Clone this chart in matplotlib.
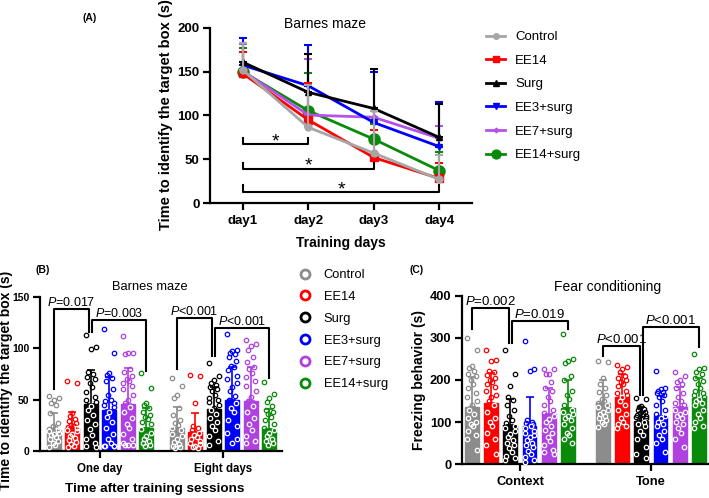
import matplotlib
matplotlib.use('Agg')
import matplotlib.pyplot as plt
from matplotlib.lines import Line2D

plt.rcParams['font.family'] = ['Liberation Sans', 'DejaVu Sans']
plt.rcParams['mathtext.fontset'] = 'custom'
plt.rcParams['mathtext.it'] = 'Liberation Sans:italic'
plt.rcParams['mathtext.rm'] = 'Liberation Sans'

W, H = 709, 498

groups = ['Control', 'EE14', 'Surg', 'EE3+surg', 'EE7+surg', 'EE14+surg']
line_colors = ['#a6a6a6', '#ff0000', '#000000', '#0000ff', '#b552e8', '#0a8a0a']
bar_colors = ['#8c8c8c', '#ff0000', '#000000', '#0000ff', '#b040e0', '#0a8a0a']
markers = ['o', 's', '^', 'v', 'D', 'o']
msizes = [5, 5.5, 5, 5, 3, 8]

# ---------------- Panel A data ----------------
days = ['day1', 'day2', 'day3', 'day4']
a_control = [152, 86.5, 57, 27]
a_ee14 = [148, 95, 52, 28]
a_surg = [161, 126.5, 108, 75]
a_ee3 = [157.5, 134, 92, 64.5]
a_ee7 = [151, 100.5, 98, 74]
a_ee14s = [150, 105.5, 73, 37]
a_means = [a_control, a_ee14, a_surg, a_ee3, a_ee7, a_ee14s]

a_top_control = [183, 135, 105, 55]
a_top_ee14 = [173, 137, 83, 46]
a_top_surg = [183, 170, 153, 113]
a_top_ee3 = [189, 180, 150, 115]
a_top_ee7 = [182, 165, 108, 88]
a_top_ee14s = [177, 149, 90, 58]
a_tops = [a_top_control, a_top_ee14, a_top_surg, a_top_ee3, a_top_ee7, a_top_ee14s]

# significance brackets (day from, day to, bracket y, leg top y)
a_brackets = [(1, 2, 67, 74), (1, 3, 39, 46), (1, 4, 12, 20)]

# ---------------- Panel B data ----------------
b_conditions = ['One day', 'Eight days']
b_means_one = [20.5, 22.7, 45.8, 40, 45.5, 22.7]
b_means_eight = [22.7, 18.2, 40.9, 49.7, 48.7, 21.4]
b_tops_one = [37, 38.3, 79, 71.8, 80.5, 42.2]
b_tops_eight = [42.5, 36.7, 62.7, 81.5, 81.5, 40.9]

b_dots_one = [
    [54, 52, 50, 47, 45, 37, 27, 24, 22, 21, 20, 19, 18, 17, 16, 14, 12, 10, 8, 6, 4],
    [68, 66, 37, 34, 31, 29, 27, 25, 24, 23, 22, 20, 19, 17, 15, 13, 11, 9, 7, 5, 4],
    [113, 101, 99, 77, 75, 72, 70, 66, 62, 57, 53, 50, 48, 44, 40, 35, 30, 26, 21, 16, 12, 8, 5, 4],
    [119, 95, 76, 74, 71, 68, 60, 55, 50, 49, 47, 45, 43, 38, 33, 28, 22, 17, 12, 8, 5, 5, 5, 5],
    [112, 95, 95, 94, 80, 77, 73, 70, 68, 66, 63, 60, 55, 50, 47, 43, 38, 32, 26, 22, 17, 12, 8, 6, 6, 6],
    [76, 61, 47, 45, 42, 38, 35, 33, 31, 28, 26, 21, 18, 15, 12, 10, 8, 6, 5],
]
b_dots_eight = [
    [71, 63, 55, 52, 42, 35, 30, 27, 25, 22, 20, 17, 15, 12, 9, 7, 5, 4, 3],
    [74, 73, 47, 24, 22, 20, 18, 16, 14, 12, 10, 8, 7, 5, 4, 3],
    [86, 73, 69, 66, 64, 62, 60, 58, 55, 52, 50, 48, 45, 42, 40, 36, 32, 28, 24, 20, 15, 10, 6],
    [114, 98, 97, 95, 94, 92, 88, 83, 82, 79, 73, 70, 66, 62, 58, 54, 50, 47, 42, 38, 30, 24, 18, 12, 8],
    [108, 104, 102, 98, 92, 87, 82, 80, 76, 72, 68, 63, 58, 53, 49, 44, 38, 32, 26, 20, 15, 10, 8],
    [67, 56, 52, 48, 44, 40, 38, 36, 33, 30, 26, 22, 20, 18, 15, 12, 10, 8, 6],
]
# (cond index, group from, group to, top y, left leg bottom, right leg bottom, label)
b_brackets = [
    (0, 0, 2, 138, 60, 116, 'P=0.017'),
    (0, 2, 5, 128, 116, 78, 'P=0.003'),
    (1, 0, 2, 130, 79.5, 93, 'P<0.001'),
    (1, 2, 5, 119.5, 93, 71, 'P<0.001'),
]

# ---------------- Panel C data ----------------
c_conditions = ['Context', 'Tone']
c_means_context = [136.8, 146, 92.5, 91.7, 119.4, 133.6]
c_means_tone = [144.7, 160.5, 102.8, 115.4, 136.8, 156.5]
c_tops_context = [207, 216, 155.7, 160.5, 180, 200]
c_tops_tone = [200, 215, 135, 163, 184, 204]

c_dots_context = [
    [300, 271, 233, 228, 222, 215, 210, 200, 190, 180, 170, 160, 150, 140, 130, 120, 110, 100, 95, 90, 80, 70, 60, 35],
    [270, 248, 245, 222, 218, 212, 205, 200, 195, 190, 183, 175, 165, 160, 150, 140, 125, 110, 100, 90, 75, 60, 45, 25],
    [270, 215, 185, 160, 152, 140, 130, 115, 105, 98, 92, 85, 80, 72, 65, 58, 50, 45, 38, 30, 20, 15, 10],
    [293, 227, 222, 105, 100, 97, 95, 92, 90, 85, 80, 75, 70, 65, 58, 50, 45, 40, 32, 25, 18, 10, 5],
    [225, 225, 215, 215, 195, 180, 175, 160, 150, 140, 130, 122, 115, 108, 100, 90, 82, 75, 65, 55, 45, 35, 30, 25],
    [310, 250, 245, 240, 210, 200, 175, 165, 155, 140, 130, 125, 120, 115, 110, 105, 95, 85, 75, 70, 60, 50],
]
c_dots_tone = [
    [245, 242, 205, 190, 180, 172, 165, 155, 150, 145, 140, 135, 130, 125, 120, 115, 110, 105, 100, 95, 88],
    [235, 230, 225, 218, 210, 205, 200, 195, 190, 185, 175, 170, 165, 160, 150, 140, 130, 120, 110, 100, 95, 90, 85],
    [158, 155, 138, 135, 132, 128, 125, 122, 120, 118, 115, 112, 110, 108, 105, 100, 95, 90, 80, 70, 60, 40, 25, 15],
    [222, 180, 178, 175, 172, 170, 165, 160, 150, 140, 130, 120, 115, 110, 100, 95, 90, 80, 70, 60, 50, 30],
    [220, 210, 200, 195, 190, 180, 170, 160, 150, 145, 140, 130, 125, 120, 115, 110, 100, 95, 85, 75, 60, 40],
    [262, 228, 225, 220, 215, 205, 198, 190, 180, 175, 170, 165, 160, 155, 150, 145, 140, 130, 120, 110, 100, 90, 85],
]
c_brackets = [
    (0, 0, 2, 371, 320, 287, 'P=0.002'),
    (0, 2, 5, 341, 287, 321, 'P=0.019'),
    (1, 0, 2, 281, 257, 164, 'P<0.001'),
    (1, 2, 5, 326.5, 164, 279, 'P<0.001'),
]


def fx(px):
    return px / W


def fy(py):
    return 1 - py / H


def axes_px(fig, left, right, top, bottom):
    return fig.add_axes([fx(left), fy(bottom), (right - left) / W, (bottom - top) / H])


def style_axes(ax, xfs, yfs):
    for s in ['top', 'right']:
        ax.spines[s].set_visible(False)
    for s in ['left', 'bottom']:
        ax.spines[s].set_linewidth(1.6)
    ax.tick_params(axis='both', length=5, width=1.6, direction='out')
    ax.tick_params(axis='x', labelsize=xfs)
    ax.tick_params(axis='y', labelsize=yfs, pad=2.5)
    for lab in ax.get_xticklabels() + ax.get_yticklabels():
        lab.set_fontweight('bold')


fig = plt.figure(figsize=(W / 100, H / 100), dpi=100)

# ================= Panel A =================
axA = axes_px(fig, 210, 472, 28, 203)
x_days = list(range(1, len(days) + 1))
for k in reversed(range(len(groups))):
    m = a_means[k]
    t = a_tops[k]
    up = [ti - mi for ti, mi in zip(t, m)]
    axA.errorbar(x_days, m, yerr=[[0] * len(m), up], color=line_colors[k], lw=2,
                 marker=markers[k], ms=msizes[k], capsize=3, capthick=1.5, elinewidth=1.5,
                 label=groups[k], zorder=3 + (len(groups) - k) * 0.1)
for d0, d1, yb, yl in a_brackets:
    axA.plot([d0, d0, d1, d1], [yl, yb, yb, yl], color='black', lw=1.5, zorder=2)
    axA.text((d0 + d1) / 2, yb - 6.5, '*', ha='center', va='bottom', fontsize=14)
axA.set_xlim(0.5, 4.5)
axA.set_ylim(0, 200)
axA.set_xticks(x_days)
axA.set_xticklabels(days)
axA.set_yticks([0, 50, 100, 150, 200])
style_axes(axA, 9.5, 9.5)

handles = [Line2D([0], [0], color=line_colors[k], lw=2, marker=markers[k],
                  ms=msizes[k] * 0.8) for k in range(len(groups))]
fig.legend(handles, groups, loc='upper left', bbox_to_anchor=(fx(486), fy(31)),
           frameon=False, fontsize=9.5, handlelength=1.45, handletextpad=0.75,
           labelspacing=0.86, borderpad=0, borderaxespad=0)

fig.text(fx(90), fy(18), '(A)', fontsize=7.5, fontweight='bold', ha='center', va='center')
fig.text(fx(325), fy(24), 'Barnes maze', fontsize=10, ha='center', va='center')
fig.text(fx(166), fy(115), 'Time to identify the target box (s)', fontsize=10.5,
         fontweight='bold', rotation=90, ha='center', va='center')
fig.text(fx(341), fy(243), 'Training days', fontsize=10, fontweight='bold', ha='center', va='center')

# ================= Bar panels =================
offsets = [-0.27, 0.27, 0.0, -0.14, 0.14, -0.2, 0.2, -0.07, 0.07, -0.24, 0.24]


def bar_panel(ax, centers, means_sets, tops_sets, dots_sets, width, brackets, ptext_fs):
    for ci, c in enumerate(centers):
        for k in range(len(groups)):
            x = c + (k - 2.5)
            mval = means_sets[ci][k]
            tval = tops_sets[ci][k]
            ax.bar(x, mval, width, color=bar_colors[k], edgecolor=bar_colors[k], lw=1, zorder=2)
            ax.errorbar([x], [mval], yerr=[[0], [tval - mval]], color=bar_colors[k],
                        capsize=3.2, capthick=1.2, elinewidth=1.2, zorder=3, fmt='none')
            for i, v in enumerate(dots_sets[ci][k]):
                col = 'white' if v < mval else bar_colors[k]
                ax.plot(x + offsets[i % len(offsets)] * width / 0.76, v, 'o', ms=3.2,
                        mfc='none', mec=col, mew=0.9, zorder=4, clip_on=False)
    for ci, g0, g1, ytop, yl, yr, lab in brackets:
        x0 = centers[ci] + (g0 - 2.5) + (0.08 if g0 == 2 else 0)
        x1 = centers[ci] + (g1 - 2.5) - (0.08 if g1 == 2 else 0)
        ax.plot([x0, x0, x1, x1], [yl, ytop, ytop, yr], color='black', lw=1.5, zorder=5,
                clip_on=False)
        rest = lab[1:]
        ax.text((x0 + x1) / 2, ytop, r'$\mathit{P}$' + rest, ha='center', va='bottom',
                fontsize=ptext_fs, clip_on=False)


# ----- Panel B -----
axB = axes_px(fig, 40, 282, 297, 451)
b_centers = [0, 6.64]
bar_panel(axB, b_centers, [b_means_one, b_means_eight], [b_tops_one, b_tops_eight],
          [b_dots_one, b_dots_eight], 0.76, b_brackets, 9)
axB.set_xlim(-3.25, 9.83)
axB.set_ylim(0, 150)
axB.set_xticks(b_centers)
axB.set_xticklabels(b_conditions)
axB.set_yticks([0, 50, 100, 150])
style_axes(axB, 8.3, 7.5)

fig.text(fx(43), fy(270), '(B)', fontsize=7.5, fontweight='bold', ha='center', va='center')
fig.text(fx(150), fy(287), 'Barnes maze', fontsize=9.3, ha='center', va='center')
fig.text(fx(6), fy(380), 'Time to identify the target box (s)', fontsize=10,
         fontweight='bold', rotation=90, ha='center', va='center')
fig.text(fx(155), fy(489), 'Time after training sessions', fontsize=9.7, fontweight='bold',
         ha='center', va='center')

# ----- Panel C -----
axC = axes_px(fig, 461.7, 708, 295.7, 464.3)
c_centers = [0, 6.81]
bar_panel(axC, c_centers, [c_means_context, c_means_tone], [c_tops_context, c_tops_tone],
          [c_dots_context, c_dots_tone], 0.72, c_brackets, 9.5)
axC.set_xlim(-3.03, 9.78)
axC.set_ylim(0, 400)
axC.set_xticks(c_centers)
axC.set_xticklabels(c_conditions)
axC.set_yticks([0, 100, 200, 300, 400])
style_axes(axC, 9.3, 9.3)

fig.text(fx(417), fy(270), '(C)', fontsize=7.5, fontweight='bold', ha='center', va='center')
fig.text(fx(608), fy(287), 'Fear conditioning', fontsize=10, ha='center', va='center')
fig.text(fx(419), fy(380), 'Freezing behavior (s)', fontsize=10, fontweight='bold',
         rotation=90, ha='center', va='center')

# ----- shared legend for B/C -----
handles2 = [Line2D([0], [0], ls='none', marker='o', ms=6.5, mfc='none', mec=bar_colors[k],
                   mew=2) for k in range(len(groups))]
fig.legend(handles2, groups, loc='upper left', bbox_to_anchor=(fx(299), fy(269)),
           frameon=False, fontsize=9.3, handlelength=1.0, handletextpad=0.9,
           labelspacing=0.76, borderpad=0, borderaxespad=0)

fig.savefig('out.png', dpi=100)
